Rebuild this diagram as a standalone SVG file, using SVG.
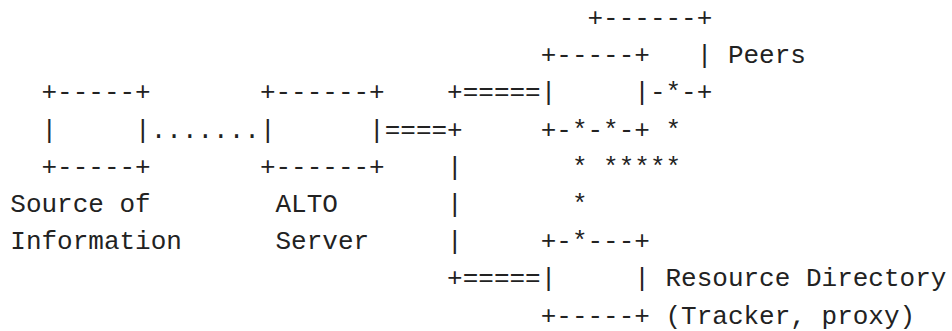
<svg xmlns="http://www.w3.org/2000/svg" width="952" height="331" viewBox="0 0 952 331">
<style>
text { font-family: "Liberation Mono", "DejaVu Sans Mono", monospace; font-size: 26px; fill: #222; }
</style>
<rect width="952" height="331" fill="#ffffff"/>
<g id="source-of-information">
<text x="41.5" y="100.4">+-----+</text>
<text x="41.5" y="137.6">|</text>
<text x="135.1" y="137.6">|</text>
<text x="41.5" y="174.8">+-----+</text>
<text x="10.3" y="212">Source of</text>
<text x="10.3" y="249.2">Information</text>
</g>
<g id="alto-server">
<text x="259.9" y="100.4">+------+</text>
<text x="259.9" y="137.6">|</text>
<text x="369.1" y="137.6">|</text>
<text x="259.9" y="174.8">+------+</text>
<text x="275.5" y="212">ALTO</text>
<text x="275.5" y="249.2">Server</text>
</g>
<g id="peers">
<text x="587.5" y="26">+------+</text>
<text x="540.7" y="63.2">+-----+</text>
<text x="696.7" y="63.2">| Peers</text>
<text x="540.7" y="100.4">|</text>
<text x="634.3" y="100.4">|-*-+</text>
<text x="540.7" y="137.6">+-*-*-+</text>
</g>
<g id="resource-directory">
<text x="540.7" y="249.2">+-*---+</text>
<text x="540.7" y="286.4">|</text>
<text x="634.3" y="286.4">| Resource Directory</text>
<text x="540.7" y="323.6">+-----+ (Tracker, proxy)</text>
</g>
<g id="connectors">
<text x="150.7" y="137.6">.......</text>
<text x="384.7" y="137.6">====+</text>
<text x="447.1" y="100.4">+=====</text>
<text x="447.1" y="174.8">|</text>
<text x="447.1" y="212">|</text>
<text x="447.1" y="249.2">|</text>
<text x="447.1" y="286.4">+=====</text>
<text x="665.5" y="137.6">*</text>
<text x="571.9" y="174.8">* *****</text>
<text x="571.9" y="212">*</text>
</g>
</svg>
